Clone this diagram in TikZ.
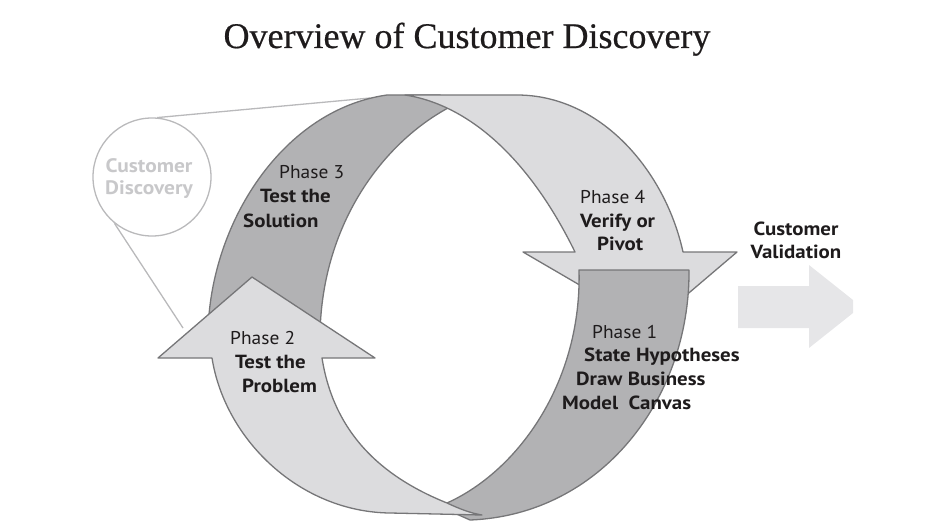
\documentclass[tikz,border=0pt]{standalone}
\usepackage{fontspec}
\setmainfont{Liberation Serif}
\newfontfamily\titlefont[FakeBold=0.5]{Liberation Serif}
\newfontfamily\ptsans[FakeStretch=1.05]{PT Sans}
\newfontfamily\ptsansw[FakeStretch=1.1]{PT Sans}
\definecolor{darkfill}{RGB}{178,178,180}
\definecolor{lightfill}{RGB}{220,220,222}
\definecolor{edgegray}{RGB}{118,118,120}
\definecolor{circgray}{RGB}{185,185,187}
\definecolor{cdtext}{RGB}{200,200,202}
\definecolor{arrowfill}{RGB}{230,230,232}
\definecolor{txt}{RGB}{30,27,28}
\begin{document}
\begin{tikzpicture}[x=1pt,y=-1pt,
  band/.style={draw=edgegray, line width=1.3pt, line join=round},
  darkband/.style={band, fill=darkfill},
  lightband/.style={band, fill=lightfill},
  lab/.style={font=\ptsans\fontsize{18.5}{20}\selectfont, text=txt, inner sep=0pt, anchor=base west},
  labb/.style={lab, font=\ptsansw\bfseries\fontsize{19}{20}\selectfont},
  cdlab/.style={font=\ptsansw\bfseries\fontsize{19.5}{20}\selectfont, text=cdtext, inner sep=0pt, anchor=base},
  circline/.style={draw=circgray, line width=1.3pt}
]
\useasboundingbox (0,0) rectangle (928,524);

% title
\node[font=\titlefont\fontsize{36}{40}\selectfont, text=txt, anchor=base, inner sep=0pt] (title) at (467,48) {Overview of Customer Discovery};

% customer discovery circle
\node[circle, draw=circgray, line width=1.3pt, minimum size=118pt, inner sep=0pt] (cd) at (152,177) {};
\node[cdlab] (cd1) at (149,172) {Customer};
\node[cdlab] (cd2) at (149,194) {Discovery};
\coordinate (t1) at (370,98);
\coordinate (t2) at (183,328);
\draw[circline] (cd.85) -- (t1);
\draw[circline] (cd.231) -- (t2);

% Phase 3 band (dark)
\path[darkband] (208,345) .. controls (205,230) and (280,110) .. (387,95) -- (440,95) -- (448,108)
   .. controls (380,145) and (318,230) .. (320,345) -- cycle;

% Phase 4 band (light, arrow)
\path[lightband] (405,95) -- (517,95) .. controls (600,95) and (665,170) .. (683,252)
   -- (737,252) -- (650,326) -- (523,252) -- (575,252)
   .. controls (530,160) and (470,105) .. (405,95) -- cycle;

% Phase 1 band (dark)
\path[darkband] (447,503) .. controls (520,470) and (582,380) .. (579,270) -- (689,270)
   .. controls (690,400) and (600,515) .. (470,520) -- (452,512) -- cycle;

% Phase 2 band (light, arrow)
\path[lightband] (212,358) -- (158,358) -- (252,277) -- (375,358) -- (322,358)
   .. controls (335,440) and (390,480) .. (447,503)
   .. controls (460,509) and (470,513) .. (482,515) -- (390,513)
   .. controls (300,512) and (225,440) .. (212,358) -- cycle;

% customer validation arrow
\path[fill=arrowfill] (738,286) -- (809,286) -- (809,265) -- (853,300) -- (853,313) -- (809,348) -- (809,328) -- (738,328) -- cycle;

% labels
\node[lab]  (p3a) at (279,178) {Phase 3};
\node[labb] (p3b) at (260,202) {Test the};
\node[labb] (p3c) at (243,227) {Solution};

\node[lab]  (p4a) at (580,203) {Phase 4};
\node[labb] (p4b) at (580,227) {Verify or};
\node[labb] (p4c) at (597,250) {Pivot};

\node[lab]  (p2a) at (230,344) {Phase 2};
\node[labb] (p2b) at (235,368) {Test the};
\node[labb] (p2c) at (242,392) {Problem};

\node[lab]  (p1a) at (592,338) {Phase 1};
\node[labb] (p1b) at (584,361) {State Hypotheses};
\node[labb] (p1c) at (576,385) {Draw Business};
\node[labb] (p1d) at (562,409) {Model\ \ Canvas};

\node[labb, anchor=base] (cv1) at (796,235) {Customer};
\node[labb, anchor=base] (cv2) at (796,258) {Validation};
\end{tikzpicture}
\end{document}
